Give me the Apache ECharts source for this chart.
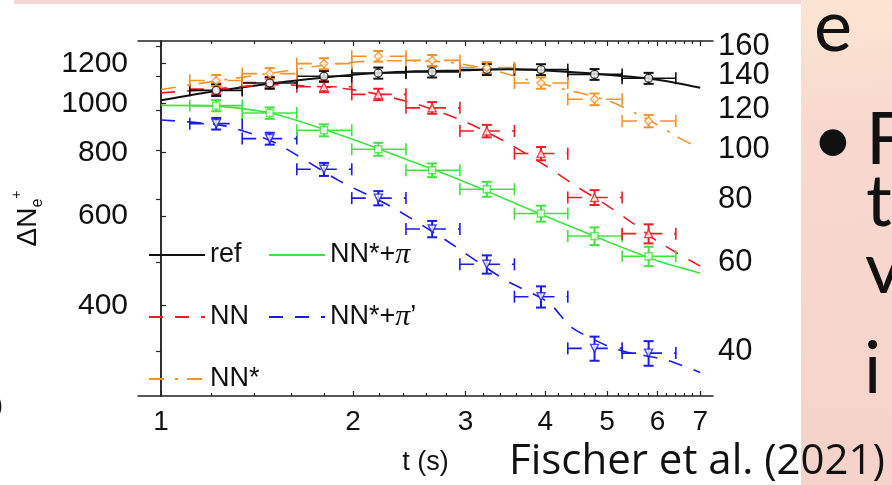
<!DOCTYPE html>
<html lang="en">
<head>
    <meta charset="UTF-8">
    <title>Fischer et al. (2021)</title>
    <script src="https://cdn.jsdelivr.net/npm/echarts@6/dist/echarts.min.js"></script>
    <style>
        html, body { margin: 0; padding: 0; background: #fff; }
        #main { width: 892px; height: 485px; }
    </style>
</head>
<body>
<div id="main"></div>
<script>
    // time bins (s): edges and centres of the binned points
    const binEdges = [1.109, 1.34, 1.632, 1.99, 2.42, 2.94, 3.58, 4.34, 5.28, 6.41];
    const tBins = [1.22, 1.48, 1.80, 2.19, 2.66, 3.24, 3.94, 4.78, 5.81];

    // binned points and their errors
    const refPts = [1062, 1098, 1132, 1149, 1155, 1168, 1167, 1142, 1122];
    const refErr = [27, 28, 28, 29, 29, 29, 29, 28, 28];
    const nnPts = [1068, 1100, 1080, 1043, 981, 883, 797, 653, 554];
    const nnErr = [27, 28, 27, 27, 26, 25, 24, 22, 24];
    const nnsPts = [1111, 1146, 1199, 1240, 1217, 1178, 1098, 1020, 924];
    const nnsErr = [28, 29, 30, 30, 30, 29, 28, 27, 26];
    const pionPts = [991, 958, 886, 813, 739, 678, 607, 548, 500];
    const pionErr = [25, 25, 24, 24, 23, 23, 22, 22, 22];
    const pion2Pts = [913, 853, 742, 651, 566, 482, 416, 329, 322];
    const pion2Err = [24, 23, 22, 21, 21, 20, 20, 18, 18];

    // fitted curves
    const refCurveT = [1, 1.2, 1.5, 2, 2.5, 3, 3.5, 4, 5, 6, 7];
    const refCurve = [1015, 1055, 1097, 1140, 1158, 1163, 1170, 1162, 1140, 1115, 1075];
    const nnCurveT = [1, 1.2, 1.5, 2, 2.5, 3, 3.5, 4, 4.5, 5, 5.5, 6, 7];
    const nnCurve = [1050, 1068, 1090, 1065, 1000, 920, 835, 755, 684, 630, 580, 535, 478];
    const nnsCurveT = [1, 1.2, 1.5, 1.8, 2.2, 2.8, 3.3, 4, 5, 5.8, 6.5, 7];
    const nnsCurve = [1066, 1105, 1150, 1190, 1215, 1208, 1165, 1090, 1015, 930, 855, 815];
    const pionCurveT = [1, 1.2, 1.5, 2, 2.5, 3, 3.5, 4, 5, 6, 7];
    const pionCurve = [992, 990, 955, 850, 765, 700, 645, 600, 535, 490, 463];
    const pion2CurveT = [1, 1.25, 1.5, 1.9, 2.3, 2.8, 3.45, 4.05, 4.4, 5, 5.4, 6.2, 7];
    const pion2Curve = [928, 905, 840, 705, 625, 537, 450, 405, 362, 333, 323, 312, 295];

    // axis ticks
    const xMajorTicks = [1, 2, 3, 4, 5, 6, 7];
    const xMinorTicks = [1.2, 1.4, 1.6, 1.8, 2.2, 2.4, 2.6, 2.8, 3.2, 3.4, 3.6, 3.8,
        4.2, 4.4, 4.6, 4.8, 5.2, 5.4, 5.6, 5.8, 6.2, 6.4, 6.6, 6.8];
    const leftTicks = [400, 600, 800, 1000, 1200];
    const rightTicks = [40, 60, 80, 100, 120, 140, 160];
    // right labels split over two axes so neighbouring labels are not dropped
    const rightLabelsA = [40, 80, 120, 160];
    const rightLabelsB = [60, 100, 140];

    const lg = Math.log10;
    const xRange = [0.92, 7.33];
    const yRange = [265, 1329];
    const rightPerLeft = 0.1234;

    const font = 'Liberation Sans';
    const dashed = [14, 12];
    const dashDot = [15, 11, 3, 9];

    const chartDom = document.getElementById('main');
    const myChart = echarts.init(chartDom, null, {renderer: 'canvas'});

    function curve(name, ts, vs, color, type, width) {
        return {
            name: name, type: 'line', xAxisIndex: 0, yAxisIndex: 0,
            data: ts.map((t, i) => [lg(t), lg(vs[i])]),
            symbol: 'none', smooth: 0.25, z: 2, silent: true,
            lineStyle: {color: color, width: width, type: type},
            itemStyle: {color: color}
        };
    }

    function errBars(name, pts, err, color, dash) {
        return {
            name: name + '_err', type: 'custom', xAxisIndex: 0, yAxisIndex: 0,
            data: tBins.map((t, i) => [lg(t), lg(pts[i]), lg(binEdges[i]), lg(binEdges[i + 1]),
                lg(pts[i] - err[i]), lg(pts[i] + err[i])]),
            encode: {x: 0, y: 1}, z: 3, silent: true,
            renderItem: function (params, api) {
                const c = api.coord([api.value(0), api.value(1)]);
                const l = api.coord([api.value(2), api.value(1)]);
                const r = api.coord([api.value(3), api.value(1)]);
                const lo = api.coord([api.value(0), api.value(4)]);
                const hi = api.coord([api.value(0), api.value(5)]);
                const st = {stroke: color, lineWidth: 1.6};
                const ln = (x1, y1, x2, y2, s) => ({type: 'line', shape: {x1, y1, x2, y2}, style: s || st});
                return {
                    type: 'group', children: [
                        ln(l[0], l[1], r[0], r[1], {stroke: color, lineWidth: 1.6, lineDash: dash}),
                        ln(l[0], l[1] - 6, l[0], l[1] + 6),
                        ln(r[0], r[1] - 6, r[0], r[1] + 6),
                        ln(c[0], lo[1], c[0], hi[1], {stroke: color, lineWidth: 2}),
                        ln(c[0] - 5, lo[1], c[0] + 5, lo[1], {stroke: color, lineWidth: 2}),
                        ln(c[0] - 5, hi[1], c[0] + 5, hi[1], {stroke: color, lineWidth: 2})
                    ]
                };
            }
        };
    }

    function points(name, pts, color, symbol, rotate) {
        return {
            name: name + '_pts', type: 'scatter', xAxisIndex: 0, yAxisIndex: 0,
            data: tBins.map((t, i) => [lg(t), lg(pts[i])]),
            symbol: symbol, symbolSize: symbol === 'rect' ? 7 : 8, symbolRotate: rotate || 0,
            z: 4, silent: true,
            itemStyle: {color: '#fff', borderColor: color, borderWidth: 1.4}
        };
    }

    const cRef = '#111111', cNN = '#ee1c24', cNNs = '#f3922a', cPi = '#3fe43f', cPi2 = '#1b1be8';
    const nPi = 'NN*+π', nPi2 = 'NN*+π\u2019';

    const tickLabel = {fontFamily: font, color: '#111', hideOverlap: false};
    const axisLine = {show: true, lineStyle: {color: '#222', width: 1.5}};
    const fmtLog = v => String(Math.round(Math.pow(10, v)));

    function xAxis(pos, ticks, len, showLine, showLabel) {
        return {
            type: 'value', position: pos, gridIndex: 0,
            min: lg(xRange[0]), max: lg(xRange[1]),
            axisLine: showLine ? axisLine : {show: false},
            axisTick: {show: true, inside: true, length: len, customValues: ticks.map(lg),
                lineStyle: {color: '#222', width: 1.2}},
            axisLabel: showLabel ? Object.assign({
                show: true, customValues: ticks.map(lg), fontSize: 28, margin: 12, formatter: fmtLog
            }, tickLabel) : {show: false},
            splitLine: {show: false}
        };
    }

    function rightAxis(labels, showLine) {
        return {
            type: 'value', position: 'right', offset: 0,
            min: lg(yRange[0] * rightPerLeft), max: lg(yRange[1] * rightPerLeft),
            axisLine: showLine ? axisLine : {show: false},
            axisTick: showLine ? {show: true, inside: true, length: 5, customValues: rightTicks.map(lg),
                lineStyle: {color: '#222', width: 1.2}} : {show: false},
            axisLabel: Object.assign({show: true, customValues: labels.map(lg), fontSize: 31, margin: 5,
                formatter: fmtLog}, tickLabel),
            splitLine: {show: false}
        };
    }

    const legendText = {
        fontFamily: font, fontSize: 27, color: '#111', lineHeight: 30,
        rich: {p: {fontFamily: 'Liberation Serif', fontStyle: 'italic', fontSize: 30, color: '#111', lineHeight: 30}}
    };
    const legendFmt = name => name.replace('π', '{p|π}');
    const legendBase = {
        orient: 'vertical', top: 235, itemWidth: 56, itemHeight: 2, itemGap: 32,
        textStyle: legendText, formatter: legendFmt, selectedMode: false,
        itemStyle: {opacity: 0, borderWidth: 0}
    };

    const slideText = (text, x, y, size) => ({
        type: 'text', x: x, y: y, silent: true,
        style: {text: text, font: size + 'px Lato', fill: '#111', verticalAlign: 'bottom', textVerticalAlign: 'bottom'}
    });

    option = {
        animation: false,
        backgroundColor: '#fff',
        grid: {left: 138, top: 41, width: 575, height: 355, containLabel: false},
        xAxis: [
            Object.assign(xAxis('bottom', xMajorTicks, 5, true, true), {
                name: 't (s)', nameLocation: 'middle', nameGap: 53,
                nameTextStyle: {fontFamily: font, fontSize: 27, color: '#111'}
            }),
            xAxis('bottom', xMinorTicks, 3, false, false),
            xAxis('top', xMajorTicks, 5, true, false),
            xAxis('top', xMinorTicks, 3, false, false)
        ],
        yAxis: [
            {
                type: 'value', position: 'left', min: lg(yRange[0]), max: lg(yRange[1]),
                name: '{a|ΔN}{e|e}{p|+}', nameLocation: 'middle', nameRotate: 90, nameGap: 92,
                nameTextStyle: {
                    rich: {
                        a: {fontFamily: font, fontSize: 28, color: '#111', lineHeight: 36, verticalAlign: 'middle'},
                        e: {fontFamily: font, fontSize: 16, color: '#111', lineHeight: 36, verticalAlign: 'bottom'},
                        p: {fontFamily: font, fontSize: 14, color: '#111', lineHeight: 36, verticalAlign: 'top'}
                    }
                },
                axisLine: axisLine,
                axisTick: {show: true, inside: true, length: 5, customValues: leftTicks.map(lg),
                    lineStyle: {color: '#222', width: 1.2}},
                axisLabel: Object.assign({show: true, customValues: leftTicks.map(lg), fontSize: 30, margin: 10,
                    formatter: fmtLog}, tickLabel),
                splitLine: {show: false}
            },
            rightAxis(rightLabelsA, true),
            rightAxis(rightLabelsB, false)
        ],
        legend: [
            Object.assign({left: 143, data: ['ref', 'NN', 'NN*']}, legendBase),
            Object.assign({left: 263, data: [nPi, nPi2]}, legendBase)
        ],
        graphic: [
            {type: 'rect', shape: {x: 14, y: 0, width: 878, height: 4}, style: {fill: '#f6d6d1'}, silent: true},
            {
                type: 'rect', shape: {x: 801, y: 0, width: 91, height: 485}, silent: true,
                style: {
                    fill: new echarts.graphic.LinearGradient(0, 0, 0.3, 1, [
                        {offset: 0, color: '#fbe5d2'},
                        {offset: 0.25, color: '#f8d9cf'},
                        {offset: 1, color: '#f5d2ca'}
                    ])
                }
            },
            slideText('e', 814, 64, 72),
            slideText('•', 812, 177, 72),
            slideText('F', 866, 177, 72),
            slideText('t', 866, 239, 72),
            slideText('v', 865, 306, 72),
            slideText('i', 864, 406, 72),
            {
                type: 'text', x: 509, y: 483, silent: true,
                style: {text: 'Fischer et al. (2021)', font: '42px "Open Sans"', fill: '#111',
                    verticalAlign: 'bottom', textVerticalAlign: 'bottom'}
            },
            slideText(')', -4, 418, 24)
        ],
        series: [
            curve('ref', refCurveT, refCurve, cRef, 'solid', 2),
            curve(nPi, pionCurveT, pionCurve, cPi, 'solid', 1.6),
            curve('NN', nnCurveT, nnCurve, cNN, dashed, 1.6),
            curve(nPi2, pion2CurveT, pion2Curve, cPi2, dashed, 1.6),
            curve('NN*', nnsCurveT, nnsCurve, cNNs, dashDot, 1.6),
            errBars('pi2', pion2Pts, pion2Err, cPi2, dashed),
            errBars('pi', pionPts, pionErr, cPi, null),
            errBars('nn', nnPts, nnErr, cNN, dashed),
            errBars('ref', refPts, refErr, cRef, null),
            errBars('nns', nnsPts, nnsErr, cNNs, dashDot),
            points('pi2', pion2Pts, cPi2, 'triangle', 180),
            points('pi', pionPts, cPi, 'rect'),
            points('nn', nnPts, cNN, 'triangle'),
            points('ref', refPts, cRef, 'circle'),
            points('nns', nnsPts, cNNs, 'diamond')
        ]
    };
    option && myChart.setOption(option);
</script>
</body>
</html>
